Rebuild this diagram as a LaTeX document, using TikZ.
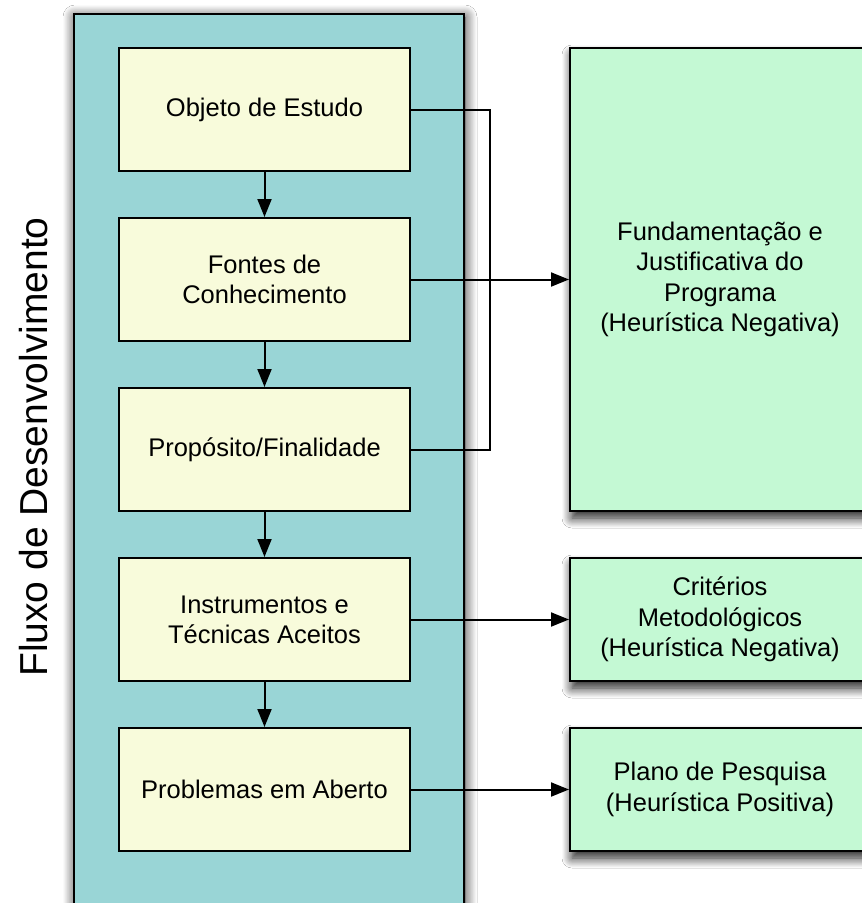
\documentclass[tikz,border=0pt]{standalone}
\usepackage{fontspec}
\setmainfont{Liberation Sans}
\usetikzlibrary{arrows.meta,shadows.blur,positioning}
\definecolor{flowbg}{HTML}{99D5D6}
\definecolor{stagefill}{HTML}{F8FBDB}
\definecolor{resultfill}{HTML}{C4F9D4}
\tikzset{
  panel/.style={draw=black, line width=2pt, fill=flowbg,
    blur shadow={shadow xshift=1pt, shadow yshift=-3pt, shadow blur radius=12pt,
      shadow blur steps=14, shadow opacity=85}},
  stagebox/.style={draw=black, line width=2pt, fill=stagefill, rectangle,
    minimum width=291pt, minimum height=123pt, align=center,
    font=\fontsize{25.5}{30}\selectfont, inner sep=0pt},
  resultbox/.style={draw=black, line width=2pt, fill=resultfill, rectangle,
    align=center, font=\fontsize{25.5}{30.5}\selectfont, inner sep=0pt,
    blur shadow={shadow xshift=2pt, shadow yshift=-7pt, shadow blur radius=10pt,
      shadow blur steps=12, shadow opacity=90}},
  link/.style={draw=black, line width=2pt},
  flowarrow/.style={link, -{Triangle[length=18pt,width=14pt]}}
}
\begin{document}
\begin{tikzpicture}[x=1pt,y=-1pt]
\useasboundingbox (0,0) rectangle (862,903);
\fill[white] (0,0) rectangle (862,903);

% development-flow panel
\path[panel] (74,14) rectangle (464,940);
\node[rotate=90, font=\fontsize{39}{46}\selectfont] (flowlabel) at (34,447) {Fluxo de Desenvolvimento};

% stages of the programme
\node[stagebox] (obj)  at (264.5,109.5) {Objeto de Estudo};
\node[stagebox] (font) at (264.5,279.5) {Fontes de\\Conhecimento};
\node[stagebox] (prop) at (264.5,449.5) {Propósito/Finalidade};
\node[stagebox] (inst) at (264.5,619.5) {Instrumentos e\\Técnicas Aceitos};
\node[stagebox] (prob) at (264.5,789.5) {Problemas em Aberto};

% results
\node[resultbox, minimum width=300pt, minimum height=463pt] (fund) at (720,279.5)
  {Fundamentação e\\Justificativa do\\Programa\\(Heurística Negativa)};
\node[resultbox, minimum width=300pt, minimum height=123pt] (crit) at (720,619.5)
  {Critérios\\Metodológicos\\(Heurística Negativa)};
\node[resultbox, minimum width=300pt, minimum height=123pt] (plan) at (720,789.5)
  {Plano de Pesquisa\\(Heurística Positiva)};

% vertical flow
\draw[flowarrow] (obj) -- (font);
\draw[flowarrow] (font) -- (prop);
\draw[flowarrow] (prop) -- (inst);
\draw[flowarrow] (inst) -- (prob);

% bracket joining the first three stages
\coordinate (brtop) at (490,109.5);
\coordinate (brbot) at (490,449.5);
\draw[link] (obj.east) -- (brtop) -- (brbot) -- (prop.east);

% stage to result arrows
\draw[flowarrow] (font.east) -- (fund.west |- font.east);
\draw[flowarrow] (inst.east) -- (crit.west);
\draw[flowarrow] (prob.east) -- (plan.west);
\end{tikzpicture}
\end{document}
